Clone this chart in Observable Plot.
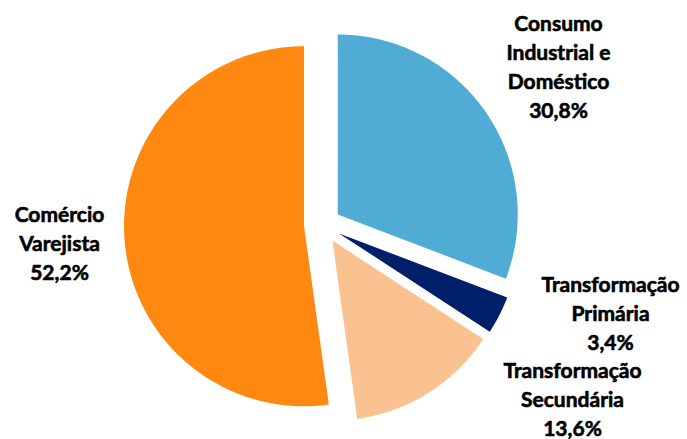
<!DOCTYPE html>
<html>
<head>
<meta charset="utf-8">
<script src="https://cdn.jsdelivr.net/npm/d3@7"></script>
<script src="https://cdn.jsdelivr.net/npm/@observablehq/plot@0.6"></script>
<style>
  html, body { margin: 0; padding: 0; background: #fff; }
</style>
</head>
<body>
<div id="chart"></div>
<script>
// ---- data ----
const categories = ["Consumo Industrial e Doméstico", "Transformação Primária", "Transformação Secundária", "Comércio Varejista"];
const labelLines = [["Consumo", "Industrial e", "Doméstico"], ["Transformação", "Primária"], ["Transformação", "Secundária"], ["Comércio", "Varejista"]];
const values = [30.8, 3.4, 13.6, 52.2];
const valueLabels = ["30,8%", "3,4%", "13,6%", "52,2%"];
const colors = ["#50ACD4", "#001F6B", "#FAC290", "#FF8811"];

// ---- layout (pixels) ----
const W = 687, H = 439;
const center = [322, 224.5];
const radius = 180;
const explode = 18.5;
const labelPos = [[558, 65], [610, 311], [572, 397], [59, 241]];

// ---- build slice polygons ----
const pie = d3.pie().sort(null).startAngle(0).endAngle(2 * Math.PI)(values);
const slicePts = [];
pie.forEach((a, i) => {
  const mid = (a.startAngle + a.endAngle) / 2;
  const cx = center[0] + explode * Math.sin(mid);
  const cy = center[1] - explode * Math.cos(mid);
  slicePts.push({cat: categories[i], x: cx, y: cy});
  const n = Math.max(8, Math.ceil((a.endAngle - a.startAngle) / (Math.PI / 360)));
  for (let k = 0; k <= n; k++) {
    const t = a.startAngle + (a.endAngle - a.startAngle) * k / n;
    slicePts.push({cat: categories[i], x: cx + radius * Math.sin(t), y: cy - radius * Math.cos(t)});
  }
  slicePts.push({cat: categories[i], x: cx, y: cy});
});

const labels = categories.map((c, i) => ({
  text: labelLines[i].concat([valueLabels[i]]).join("\n"),
  x: labelPos[i][0],
  y: labelPos[i][1]
}));

const chart = Plot.plot({
  width: W,
  height: H,
  margin: 0,
  x: {domain: [0, W], range: [0, W], axis: null},
  y: {domain: [0, H], range: [0, H], axis: null},
  color: {domain: categories, range: colors},
  style: {background: "#fff"},
  marks: [
    Plot.line(slicePts, {x: "x", y: "y", z: "cat", fill: "cat", stroke: "none", curve: "linear"}),
    Plot.text(labels, {
      x: "x", y: "y", text: "text",
      fontSize: 21, fontWeight: "bold", fontFamily: "Lato",
      fill: "#000", stroke: "#000", strokeWidth: 0.6,
      textAnchor: "middle", lineAnchor: "middle", lineHeight: 1.38
    })
  ]
});
document.getElementById("chart").appendChild(chart);
</script>
</body>
</html>
